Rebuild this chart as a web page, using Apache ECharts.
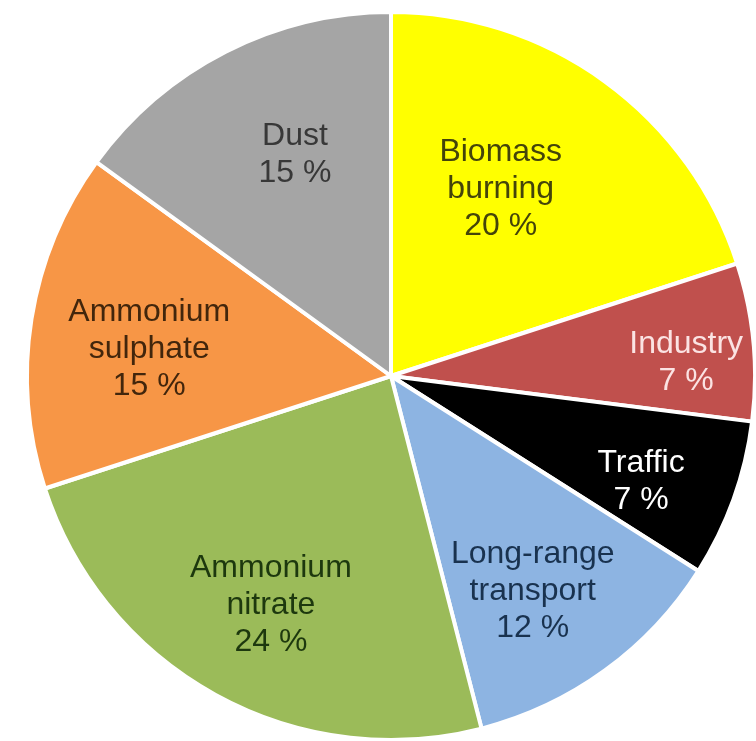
<!DOCTYPE html>
<html>
<head>
<meta charset="utf-8">
<script src="https://cdn.jsdelivr.net/npm/echarts@6/dist/echarts.min.js"></script>
<style>
  html, body { margin: 0; padding: 0; background: #fff; }
  #pie { width: 756px; height: 741px; }
</style>
</head>
<body>
<div id="pie"></div>
<script>
// sources, clockwise from 12 o'clock
var categories = ['Biomass\nburning', 'Industry', 'Traffic', 'Long-range\ntransport', 'Ammonium\nnitrate', 'Ammonium\nsulphate', 'Dust']
var shares = [20, 7, 7, 12, 24, 15, 15]

var sliceColors = ['#ffff00', '#c0504d', '#000000', '#8db4e2', '#9bbb59', '#f79646', '#a5a5a5']
var textColors = ['#44440a', '#fbe3e3', '#ffffff', '#19324f', '#1d380e', '#42260c', '#383838']
// nudge of each label away from the default inside spot
var labelNudge = [[1, -37], [111, 4], [76, 43], [33, 66], [-31, 67], [-59, 2], [-12, -56]]

var chart = echarts.init(document.getElementById('pie'))

var option = {
  backgroundColor: '#fff',
  animation: false,
  series: [
    {
      type: 'pie',
      center: [391, 376],
      radius: [0, 364],
      startAngle: 90,
      clockwise: true,
      avoidLabelOverlap: false,
      minShowLabelAngle: 0,
      itemStyle: {
        borderColor: '#fff',
        borderWidth: 4
      },
      label: {
        show: true,
        position: 'inside',
        fontFamily: 'Liberation Sans, Arial, sans-serif',
        fontSize: 32,
        lineHeight: 37,
        align: 'center',
        formatter: function (p) {
          return p.name + '\n' + p.value + ' %'
        }
      },
      labelLine: { show: false },
      labelLayout: function (params) {
        var n = labelNudge[params.dataIndex]
        return { dx: n[0], dy: n[1] }
      },
      emphasis: { disabled: true },
      data: categories.map(function (c, i) {
        return {
          name: c,
          value: shares[i],
          itemStyle: { color: sliceColors[i] },
          label: { color: textColors[i] }
        }
      })
    }
  ]
}

chart.setOption(option, true)
</script>
</body>
</html>
